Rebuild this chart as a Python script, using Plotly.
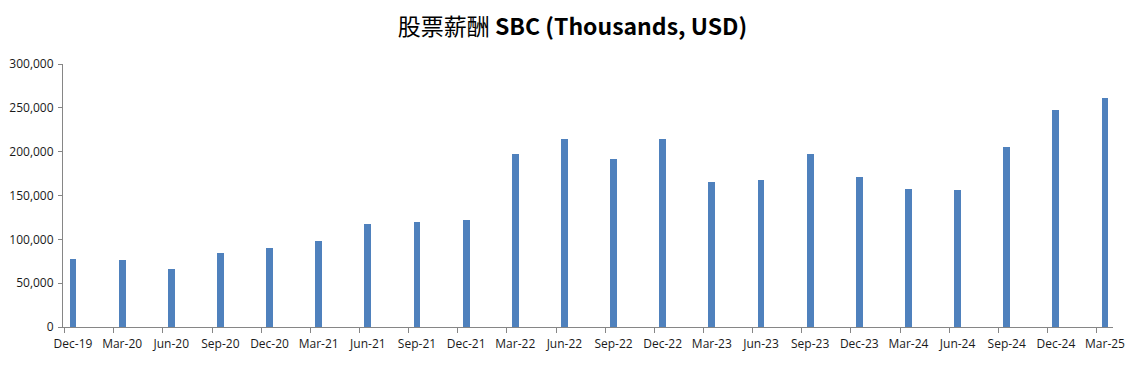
import plotly.graph_objects as go

quarters = ["Dec-19", "Mar-20", "Jun-20", "Sep-20", "Dec-20", "Mar-21", "Jun-21", "Sep-21",
            "Dec-21", "Mar-22", "Jun-22", "Sep-22", "Dec-22", "Mar-23", "Jun-23", "Sep-23",
            "Dec-23", "Mar-24", "Jun-24", "Sep-24", "Dec-24", "Mar-25"]
sbc = [77500, 76400, 66200, 84700, 90100, 98400, 117800, 120100,
       122400, 197700, 214800, 192000, 214800, 165700, 168000, 197700,
       171100, 157400, 156300, 205300, 247500, 261200]
y_ticks = [0, 50000, 100000, 150000, 200000, 250000, 300000]

pos = list(range(len(quarters)))
tick_offset = 0.17
xr = [-0.203, len(quarters) - 1 + 0.163]
axis_color = "#868686"
font_family = "Open Sans, Liberation Sans, sans-serif"

# the page body has an 8px default margin, so the figure is sized to fit the window
W, H = 1129, 357

fig = go.Figure()
fig.add_trace(go.Bar(x=pos, y=sbc, width=0.14, marker=dict(color="#4F81BD", line=dict(width=0)),
                     hovertext=quarters, showlegend=False))

fig.update_layout(
    width=W, height=H,
    margin=dict(l=55, r=24, t=56, b=38, autoexpand=False),
    paper_bgcolor="white", plot_bgcolor="white",
    title=dict(text="<span style='font-family:Noto Sans CJK SC;font-weight:normal'>股票薪酬</span> <b>SBC (Thousands, USD)</b>",
               x=0.5, xanchor="center", y=1 - 19 / H, yanchor="middle",
               font=dict(size=23, color="black", family="Noto Sans CJK SC, Open Sans, sans-serif")),
    font=dict(family=font_family, size=12, color="#1a1a1a"),
    xaxis=dict(range=xr, tickvals=pos, ticktext=quarters, ticks="", showline=True,
               linecolor=axis_color, linewidth=1, showgrid=False, zeroline=False,
               automargin=False, tickangle=0, ticklabelstandoff=6,
               tickfont=dict(size=12, family=font_family, color="#1a1a1a")),
    xaxis2=dict(range=xr, overlaying="x", side="bottom", anchor="y",
                tickvals=[p - tick_offset for p in pos], showticklabels=False,
                ticks="outside", ticklen=5, tickcolor=axis_color, showline=False,
                showgrid=False, zeroline=False, automargin=False),
    yaxis=dict(range=[0, 300000], tickvals=y_ticks, tickformat=",", ticks="outside",
               ticklen=4, tickcolor=axis_color, showline=True, linecolor=axis_color,
               linewidth=1, showgrid=False, zeroline=False, automargin=False,
               ticklabelstandoff=2,
               tickfont=dict(size=12, family=font_family, color="#1a1a1a")),
    bargap=0,
)
# invisible trace to activate xaxis2
fig.add_trace(go.Scatter(x=[xr[0]], y=[0], xaxis="x2", yaxis="y", mode="markers",
                         marker=dict(opacity=0), showlegend=False, hoverinfo="skip"))

fig.write_html("out.html")
